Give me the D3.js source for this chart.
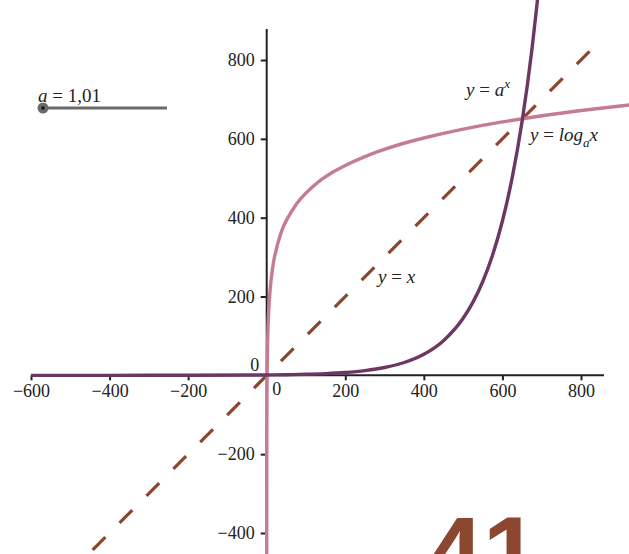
<!DOCTYPE html>
<html>
<head>
<meta charset="utf-8">
<script src="https://cdn.jsdelivr.net/npm/d3@7"></script>
<style>
  html, body { margin: 0; padding: 0; background: #fff; }
  svg { display: block; }
  text { font-family: "Liberation Serif", "DejaVu Serif", serif; }
</style>
</head>
<body>
<svg id="chart" width="629" height="554"></svg>
<script>
// ---- data ----
const aValue = "1,01";
const xTicks = [-600, -400, -200, 200, 400, 600, 800];
const yTicks = [-400, -200, 200, 400, 600, 800];
// y = a^x  (a = 1.01), sampled values
const expX = [-600, -400, -200, 0, 50, 100, 150, 200, 250, 300, 350, 400, 450, 500, 525, 550, 575, 600, 625, 650, 675, 690];
const expY = [0.0026, 0.0187, 0.137, 1, 1.645, 2.705, 4.448, 7.316, 12.03, 19.79, 32.55, 53.52, 88.0, 144.77, 185.7, 238.1, 305.4, 391.6, 502.2, 643.9, 825.9, 958.9];
// y = log_a x  (a = 1.01), sampled values
const logX = [0.01, 0.02, 0.05, 0.1, 0.3, 1, 2, 5, 10, 20, 50, 100, 200, 400, 600, 800, 950];
const logY = [-462.8, -393.2, -301.1, -231.4, -121.0, 0, 69.66, 161.75, 231.41, 301.07, 393.16, 462.82, 532.48, 602.14, 642.89, 671.80, 689.07];
// y = x
const lineX = [-443, 822];
const lineY = [-443, 822];

// ---- drawing ----
const svg = d3.select("#chart");
const x = d3.scaleLinear().domain([-600, 800]).range([31, 581]);
const y = d3.scaleLinear().domain([-400, 800]).range([533, 60]);
const fmt = d => (d < 0 ? "\u2212" + Math.abs(d) : String(d));
const tickFont = 18;
const labFont = 19;

const axisColor = "#222";
// axis lines
svg.append("line").attr("x1", 31).attr("x2", 604).attr("y1", y(0)).attr("y2", y(0))
  .attr("stroke", axisColor).attr("stroke-width", 2);
svg.append("line").attr("x1", x(0)).attr("x2", x(0)).attr("y1", 29).attr("y2", 554)
  .attr("stroke", axisColor).attr("stroke-width", 2);

const gx = svg.append("g").attr("transform", `translate(0,${y(0)})`)
  .call(d3.axisBottom(x).tickValues(xTicks).tickFormat(fmt).tickSize(5).tickPadding(4).tickSizeOuter(0));
gx.select(".domain").remove();
gx.selectAll("line").attr("stroke", axisColor).attr("stroke-width", 2);
gx.selectAll("text").attr("font-size", tickFont).attr("fill", "#222").style("font-family", '"Liberation Serif", serif');

const gy = svg.append("g").attr("transform", `translate(${x(0)},0)`)
  .call(d3.axisLeft(y).tickValues(yTicks).tickFormat(fmt).tickSize(6).tickPadding(6).tickSizeOuter(0));
gy.select(".domain").remove();
gy.selectAll("line").attr("stroke", axisColor).attr("stroke-width", 2);
gy.selectAll("text").attr("font-size", tickFont).attr("fill", "#222").style("font-family", '"Liberation Serif", serif');

// zero labels
svg.append("text").attr("x", x(0) - 12).attr("y", y(0) - 4).attr("text-anchor", "middle")
  .attr("font-size", tickFont).attr("fill", "#222").text("0");
svg.append("text").attr("x", x(0) + 10).attr("y", y(0) + 20).attr("text-anchor", "middle")
  .attr("font-size", tickFont).attr("fill", "#222").text("0");

// y = x dashed
const idLine = d3.line().x(d => x(d[0])).y(d => y(d[1]));
svg.append("path").datum(d3.zip(lineX, lineY)).attr("d", idLine)
  .attr("fill", "none").attr("stroke", "#8b4530").attr("stroke-width", 3.2)
  .attr("stroke-dasharray", "18,20.1");

// log curve
const logLine = d3.line().x(d => x(d[0])).y(d => y(d[1])).curve(d3.curveMonotoneY);
svg.append("path").datum(d3.zip(logX, logY)).attr("d", logLine)
  .attr("fill", "none").attr("stroke", "#c47c96").attr("stroke-width", 3.4);

// exp curve
const expLine = d3.line().x(d => x(d[0])).y(d => y(d[1])).curve(d3.curveMonotoneX);
svg.append("path").datum(d3.zip(expX, expY)).attr("d", expLine)
  .attr("fill", "none").attr("stroke", "#6b3763").attr("stroke-width", 3.4);

// curve labels
const lab1 = svg.append("text").attr("x", 466).attr("y", 96).attr("font-size", labFont).attr("fill", "#222");
lab1.append("tspan").attr("font-style", "italic").text("y");
lab1.append("tspan").text(" = ");
lab1.append("tspan").attr("font-style", "italic").text("a");
lab1.append("tspan").attr("font-style", "italic").attr("font-size", 13).attr("dy", -8).text("x");

const lab2 = svg.append("text").attr("x", 530).attr("y", 141).attr("font-size", labFont).attr("fill", "#222");
lab2.append("tspan").attr("font-style", "italic").text("y");
lab2.append("tspan").text(" = ");
lab2.append("tspan").attr("font-style", "italic").text("log");
lab2.append("tspan").attr("font-style", "italic").attr("font-size", 13).attr("dy", 6).text("a");
lab2.append("tspan").attr("font-style", "italic").attr("dy", -6).text("x");

const lab3 = svg.append("text").attr("x", 378).attr("y", 283).attr("font-size", labFont).attr("fill", "#222");
lab3.append("tspan").attr("font-style", "italic").text("y");
lab3.append("tspan").text(" = ");
lab3.append("tspan").attr("font-style", "italic").text("x");

// slider
svg.append("line").attr("x1", 43).attr("x2", 167).attr("y1", 108).attr("y2", 108)
  .attr("stroke", "#6a6a6a").attr("stroke-width", 3);
svg.append("circle").attr("cx", 43).attr("cy", 108).attr("r", 5.5).attr("fill", "#6a6a6a");
svg.append("circle").attr("cx", 43).attr("cy", 108).attr("r", 1.8).attr("fill", "#111");
const sl = svg.append("text").attr("x", 38).attr("y", 102).attr("font-size", labFont).attr("fill", "#222");
sl.append("tspan").attr("font-style", "italic").text("a");
sl.append("tspan").text(" = " + aValue);

// big page number
svg.append("text").attr("x", 426).attr("y", 588).attr("font-size", 102)
  .style("font-family", '"Liberation Sans", Arial, sans-serif').attr("font-weight", "bold")
  .attr("fill", "#8b4730").text("41");
</script>
</body>
</html>
